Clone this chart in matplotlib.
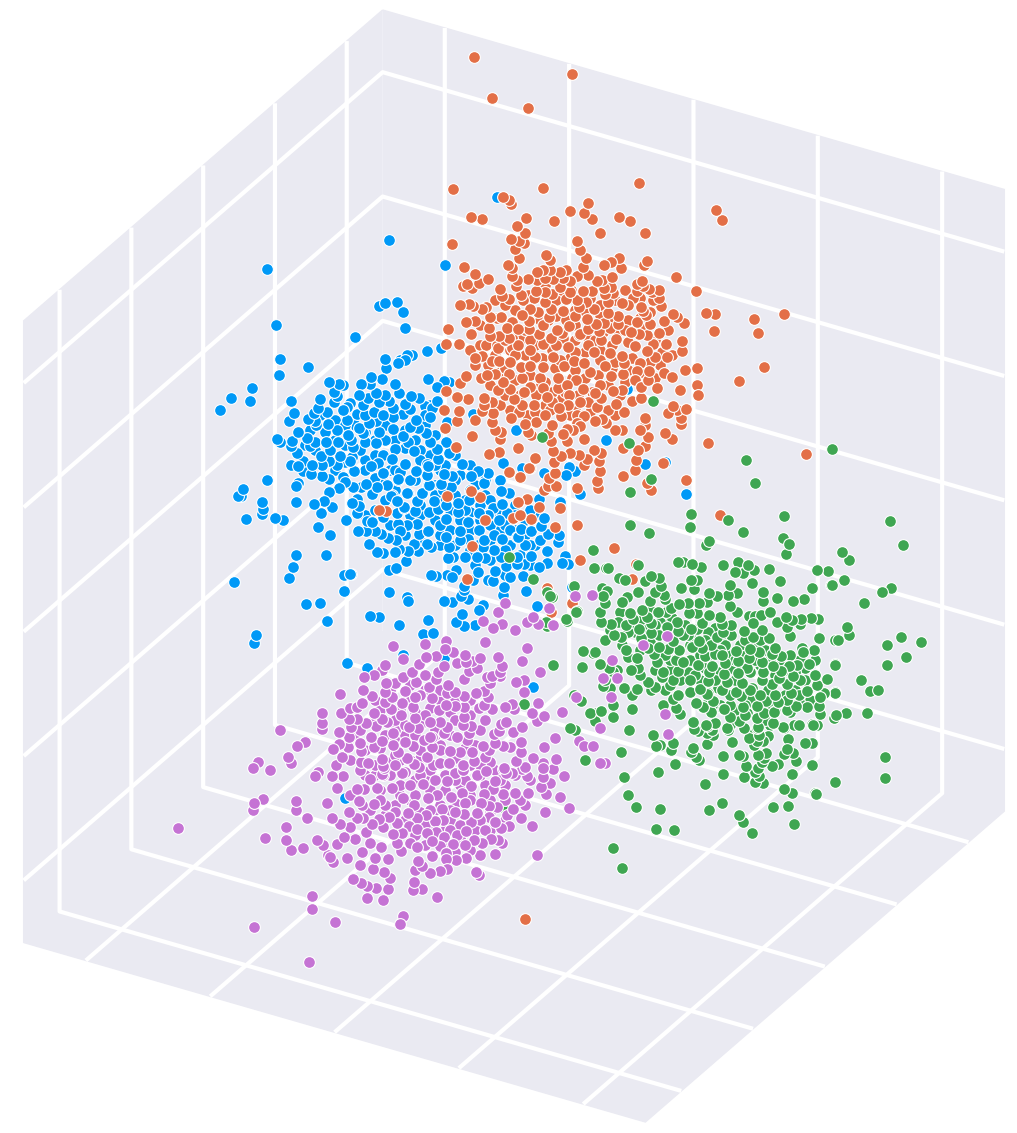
import numpy as np
import matplotlib
matplotlib.use("Agg")
import matplotlib.pyplot as plt
from mpl_toolkits.mplot3d import proj3d

# Readings of the four clouds as seen along the camera axis (picture x, picture y)
orange_view = [(474,57),(572,74),(492,98),(528,108),(716,210),(722,220),(706,313),(715,314),(754,319),(784,314),(758,333),(714,331),(764,367),(739,381),(698,395),(708,443),(806,454),(525,919),(720,515),(614,548),(636,564),(632,579),
(453,189),(543,188),(639,183),(503,197),(509,200),(511,204),(588,203),(570,211),(584,213),(592,219),(619,217),(630,221),(471,217),(482,219),(526,218),(554,221),(517,226),(525,233),(600,233),(645,233),(511,239),(519,241),(524,243),(452,244),(577,241),(515,249),(580,250),(519,258),(546,255),(550,260),(586,258),(604,265),(611,262),(619,258),(647,261),(644,265),(621,268),(464,267),(508,265),(512,268),(583,267),(696,291),(676,277),(475,274),(488,279),(479,283),(467,284),(463,286),(472,288),(512,276),(517,280),(516,286),(528,279),(537,272),(543,270),(550,270),(560,272),(566,270),(545,278),(553,279),(537,280),(563,278),(570,281),(577,276),(588,275),(612,277),(597,281),(602,280),(642,281),(637,284),(643,286),(637,291),(560,287),(536,291),(570,292),(583,291),(592,291),(604,288),(611,287),(500,289),(502,296),(521,295),(509,299),(545,292),(552,294),(605,294),(613,293),(649,289),(659,290),(652,292),(659,298),(653,300),(661,306),(673,314),(677,317),(684,323),(664,321),(641,307),(643,311),(646,315),(650,324),(637,322),(460,305),(469,304),(473,306),(482,309),(486,307),(505,305),(466,322),(475,321),(448,329),(471,334),(490,317),(501,317),(489,328),
(522,315),(530,309),(538,312),(545,302),(551,309),(563,311),(566,299),(577,300),(579,307),(575,316),(586,302),(594,309),(608,302),(608,313),(622,303),(628,305),(618,316),(549,317),(529,321),(543,325),(569,326),(587,319),(596,324),(604,323),(618,324),(518,329),(529,329),(507,328),(557,330),(588,329),(599,331),(631,332),(639,334),(659,333),(647,335),(562,333),(580,334),(490,336),(499,336),(539,334),(551,338),
(446,344),(459,344),(509,338),(543,344),(556,345),(568,347),(579,335),(594,352),(601,340),(610,353),(616,339),(622,356),(635,346),(647,351),(653,344),(666,344),(682,341),(682,351),(667,357),(655,357),(685,370),(697,368),(672,377),(664,373),(649,371),(697,385),(680,390),(657,388),(648,380),(641,387),(641,398),(632,401),(635,380),(637,371),(640,363),(624,363),(623,374),(611,376),(605,366),(584,363),(574,361),(564,366),(553,357),(543,367),(530,366),(521,367),(510,362),(499,361),(492,361),(475,358),(475,365),(482,356),(487,375),(495,374),(481,378),(466,376),(460,383),(446,391),(457,397),(468,399),(484,398),(484,405),(492,402),(444,410),(459,411),(482,411),(493,413),(475,420),(457,421),(492,422),(511,418),(445,428),(495,430),(501,432),(472,436),(500,439),(503,382),(509,374),(498,390),(510,389),(524,392),(514,399),(522,405),(519,412),(534,405),(547,397),(543,388),(530,387),(559,408),(568,405),(561,416),(545,415),(552,425),(525,424),(536,422),(548,433),(528,432),(531,435),(551,441),(563,434),(567,429),(573,430),(580,426),(577,423),(584,416),(577,415),(580,402),(569,395),(567,385),(583,389),(595,393),(601,398),(597,407),(616,404),(613,391),(624,412),(595,421),(602,419),(606,423),(615,430),(622,430),(567,441),(584,439),(645,418),(640,430),(645,425),(648,437),(623,448),(638,450),(645,446),(665,433),(672,439),(673,406),(668,413),(686,409),(677,410),(681,418),(681,424),(518,448),(553,451),(489,454),(499,452),(535,458),(561,456),(570,453),(579,455),(587,459),(594,450),(601,453),(599,461),(554,462),(584,465),(600,471),(636,460),(635,470),(663,463),(529,468),(509,472),(520,477),(555,473),(549,478),(556,486),(548,486),(544,490),(623,476),(597,481),(598,488),(577,488),(647,483),(651,490),(686,480),(456,447),(471,491),(480,497),(447,496),
(530,468),(518,502),(527,499),(539,507),(560,508),(379,510),(386,511),(520,515),(513,518),(485,520),(531,519),(555,527),(577,525),(472,546),(467,579),(547,588),(572,603),(551,612),(580,560),
(505,340),(518,345),(530,350),(498,348),(552,350),(575,352),(588,345),(600,360),(612,345),(628,342),(515,355),(535,357),(560,360),(590,372),(576,380),(558,378),(540,378),(522,378),(505,368),(600,385),(622,390),(588,402),(536,395),(552,402),(570,415),(512,348),(566,320),(530,340),(625,330),(610,328),(575,325),(595,340),(575,370),(548,320)]

orange_core = [(497,318),(512,322),(523,300),(534,298),(556,300),(571,290),(590,298),(600,305),(615,300),(633,298),(640,318),(628,320),(612,318),(600,315),(585,312),(570,318),(556,316),(540,320),(525,330),(512,338),(497,345),(486,345),(522,338),(535,345),(548,345),(563,338),(575,340),(588,338),(603,332),(618,332),(633,322),(645,328),(655,340),(662,352),(650,362),(632,358),(615,362),(600,350),(585,352),(570,358),(555,368),(542,358),(525,355),(510,350),(495,355),(488,365),(500,372),(515,380),(530,375),(545,382),(558,388),(572,378),(585,378),(598,375),(612,368),(628,370),(642,372),(655,378),(625,382),(608,385),(592,392),(578,395),(565,392),(552,392),(538,388),(520,395),(505,395),(490,385),(535,412),(550,410),(575,408),(590,412),(608,410),(620,395),(615,415),(500,405),(510,410),(527,415),(545,405),(562,398),(580,415),(480,345),(470,350),(480,325),(495,300),(515,310),(528,295),(545,285),(560,296),(575,310),(590,325),(605,312),(625,290),(640,298),(650,312),(668,330),(672,355),(660,365)]

blue_view = [(280,359),(279,375),(308,367),(252,388),(231,398),(250,401),(220,410),(291,401),(294,413),(289,421),(298,432),(277,439),(280,442),(292,441),(291,446),(307,438),(297,453),(267,480),(243,489),(238,496),(241,496),(262,502),(263,509),(296,502),(296,486),(298,483),(314,504),(324,501),(332,507),(329,492),(339,488),(329,382),(339,384),(343,385),(334,392),(337,396),(334,402),(320,399),(318,408),(314,413),(327,412),(308,419),(315,421),(343,410),(347,407),(350,403),(359,395),(361,384),(371,377),(370,384),(382,379),(395,384),(376,393),(368,398),(363,405),(385,395),(379,402),(389,401),(399,393),(411,396),(419,398),(428,379),(437,387),(444,381),(449,382),(385,359),(386,368),(398,363),(405,360),(407,355),(427,351),(441,348),(405,404),(410,409),(393,408),(383,415),(374,412),(365,415),(357,414),(347,420),(328,424),(337,430),(316,425),(369,423),(359,428),(376,421),(393,417),(403,414),(416,420),(430,417),(437,401),(432,408),(425,415),(447,422),(410,427),(418,428),(393,429),(379,432),(363,433),(348,435),(326,442),(315,442),(338,442),(351,440),(353,447),(330,450),(310,446),(340,456),(321,456),(312,465),(298,466),(291,465),(303,461),(322,465),(329,461),(337,465),(350,461),(354,471),(311,474),(303,471),(322,476),(329,479),(345,482),(343,477),(353,487),(366,484),(361,487),(377,487),(372,494),(352,503),(359,506),(357,499),(387,485),(398,479),(383,473),(371,466),(378,463),(392,459),(383,455),(376,443),(365,442),(352,457),(395,449),(403,436),(414,451),(408,442),(426,433),(430,442),(437,449),(446,442),(449,453),(405,464),(416,471),(428,466),(438,459),(427,475),(444,474),(452,476),(429,485),(422,493),(441,484),(451,487),(443,490),(407,493),(397,501),(391,496),(404,507),(417,501),(434,501),(446,505),(400,472),(385,483),
(353,471),(383,473),(392,495),(398,480),(408,493),(416,471),(405,465),(427,464),(427,474),(428,485),(422,494),(440,485),(462,464),(471,476),(478,471),(488,473),(484,483),(501,491),(509,493),(503,463),(522,468),(544,473),(566,475),(569,467),(539,499),(560,502),(530,510),(544,518),(541,526),(531,531),(548,534),(559,535),(558,542),(547,551),(521,529),(518,537),(502,539),(494,535),(484,540),(479,530),(468,522),(499,520),(458,503),(458,512),(469,500),(479,513),(488,515),(502,504),(493,508),(507,513),(438,509),(446,519),(429,512),(415,511),(404,508),(397,513),(383,517),(372,522),(367,521),(357,513),(359,506),(355,502),(346,520),(358,531),(366,531),(375,531),(381,534),(388,538),(396,540),(400,531),(398,524),(407,525),(417,524),(428,531),(440,525),(419,534),(446,537),(460,531),(460,540),(468,539),(369,544),(377,552),(383,553),(395,552),(399,549),(408,551),(414,544),(418,551),(427,544),(431,547),(449,547),(406,561),(396,568),(389,570),(350,574),(344,591),(431,575),(436,576),(452,577),(447,575),(456,570),(448,558),(453,557),(465,557),(477,557),(485,558),(483,547),(494,550),(501,557),(517,557),(517,537),(531,556),(517,564),(524,564),(506,566),(495,571),(478,572),(539,567),(547,563),(562,563),(568,564),(565,556),(510,577),(523,576),(473,580),(464,586),(493,581),(488,580),(504,587),(464,590),(503,595),(526,591),(572,587),(461,596),(468,599),(389,592),(408,601),(444,601),(452,602),(479,610),(483,605),(462,614),(537,606),(370,616),(379,617),(428,620),(399,625),(456,622),(464,626),(475,625),
(389,240),(445,265),(267,269),(276,325),(355,337),(403,312),(397,302),(385,303),(379,306),(405,328),(240,495),(246,519),(262,514),(275,518),(283,520),(296,555),(293,567),(289,578),(234,582),(326,555),(344,575),(351,574),(306,604),(320,603),(327,621),(256,635),(254,643),(347,663),(367,668),(403,655),(433,633),(423,634),(497,197),(407,597),(345,798),(533,687),(444,658),(686,494),(645,464),(665,462),(580,494),(606,440),(575,471),(541,415),(627,389),(473,414),(495,408),(516,430),(412,355),(400,360),(425,406),(430,405),(330,535),(318,527),(321,513),
(472,497),(480,520),(455,495),(465,510),(435,495),(420,505),(410,480),(395,470),(435,465),(455,480),(470,490),(490,500),(510,530),(525,545),(540,540),(505,550),(490,525),(470,530),(450,510),(440,535),(505,525),(530,545),(515,515),(335,440),(345,425),(360,450),(375,455),(365,470),(385,440),(345,445),(420,460),(440,500)]

blue_core = [(325,432),(335,420),(345,430),(355,425),(365,432),(375,440),(385,425),(395,440),(405,430),(415,440),(425,425),(435,435),(420,450),(405,448),(390,470),(375,478),(365,460),(355,452),(345,462),(335,470),(325,455),(315,450),(305,445),(310,430),(320,415),(415,480),(430,455),(445,465),(460,475),(475,485),(485,495),(500,510),(515,505),(525,520),(535,515),(510,520),(495,515),(480,505),(465,500),(450,495),(435,485),(420,515),(410,515),(395,490),(385,500),(375,510),(365,515),(390,525),(405,535),(420,540),(435,520),(450,530),(470,512),(478,545),(490,540),(510,545),(525,535),(535,545),(500,530),(515,530),(460,520),(470,550),(455,545),(440,545),(505,575),(520,555),(530,565),(490,560),(475,565),(440,470),(455,455),(470,465),(485,480),(500,480)]

green_view = [(638,565),(608,568),(594,568),(678,562),(692,564),(723,565),(748,565),(735,572),(743,573),(754,570),(769,569),(817,570),(828,571),(780,581),(832,585),(812,588),(625,580),(638,592),(651,576),(645,581),(659,578),(661,586),(655,592),(664,595),(681,588),(691,580),(697,580),(694,589),(709,593),(717,596),(730,585),(728,595),(737,593),(752,583),(763,592),(777,598),(763,601),(793,601),(804,599),(603,596),(607,591),(605,603),(622,602),(627,597),(650,601),(665,599),(679,604),(688,603),(699,603),(707,602),(730,606),(737,612),(770,612),(600,612),(601,622),(642,610),(630,613),(633,619),(647,617),(658,612),(671,608),(666,612),(689,613),(697,613),(709,615),(720,617),(626,625),(611,624),(618,622),(639,629),(651,623),(667,627),(677,622),(702,623),(722,624),(731,625),(753,623),(761,615),(755,616),(749,616),(786,617),(792,620),(777,622),(787,627),(801,619),(800,624),(811,618),(818,619),(762,630),(769,638),(790,636),(819,638),(838,640),(614,635),(621,637),(605,640),(628,632),(641,638),(651,633),(659,635),(678,631),(691,629),(697,629),(723,632),(731,635),(744,631),(753,637),(717,637),(699,641),(683,635),(673,641),(659,647),(648,648),(626,650),(595,652),(637,658),(628,657),(654,654),(668,649),(679,650),(692,647),(702,648),(711,645),(722,655),(736,651),(750,649),(759,652),(775,648),(803,652),(814,650),(802,648),(715,654),(705,656),(683,662),(676,660),(657,662),(698,665),(712,666),(725,663),(738,661),(749,658),(762,662),(772,654),(781,656),(773,666),(781,671),(789,666),(797,665),(809,664),(835,665),(815,675),(600,664),(609,668),(631,670),(638,668),(663,672),(678,671),(640,675),(662,677),(709,672),(724,674),(738,673),(747,668),(763,672),(793,676),(827,679),(817,685),(673,680),(690,680),(708,681),(727,682),(742,683),(762,680),(779,678),(772,684),(787,684),(605,680),(603,686),(624,688),(637,689),(648,682),(655,687),(651,690),(670,685),(700,689),(722,690),(736,692),(750,690),(807,691),(791,693),(799,695),(820,697),(824,693),(835,693),(632,695),(678,695),(673,699),(707,694),(741,696),(760,695),(775,695),(713,701),(696,703),(778,702),(787,700),(757,706),(743,707),(796,706),(807,707),(819,706),(663,705),(703,707),(724,709),(632,709),(601,711),(676,708),(711,712),(774,712),(764,713),(680,714),(613,717),(820,714),(836,715),(730,717),(745,715),(590,713),(595,721),(739,721),(693,722),(757,718),(773,723),(799,725),(813,725),(706,725),(715,723),(727,728),(758,727),(783,727),(629,730),
(694,729),(698,731),(707,726),(714,723),(712,730),(707,733),(713,735),(728,730),(744,728),(757,728),(759,735),(749,738),(757,741),(754,745),(763,741),(768,736),(732,742),(707,744),(653,735),(673,743),(656,746),(660,745),(671,750),(693,748),(691,752),(696,757),(699,760),(675,764),(658,772),(723,756),(739,755),(743,756),(758,755),(766,753),(764,758),(762,762),(746,766),(758,768),(772,766),(778,764),(755,772),(759,776),(723,774),(744,777),(705,784),(755,782),(763,783),(792,774),(812,765),(784,789),(792,793),(816,794),(835,782),(787,749),(784,754),(793,753),(796,761),(788,739),(805,743),(812,743),(812,724),(817,725),(794,725),(784,728),(774,723),(835,692),(835,664),(799,702),(787,710),(775,711),(766,701),(747,713),(723,709),(702,707),(708,693),
(691,514),(746,460),(832,449),(755,483),(784,516),(728,520),(890,521),(903,545),(743,532),(709,541),(690,527),(649,533),(630,525),(706,545),(789,544),(786,554),(783,538),(842,552),(849,560),(844,580),(831,585),(864,603),(882,592),(891,588),(738,562),(701,567),(683,562),(606,568),(593,550),(619,578),(574,586),(550,596),(566,619),(546,622),(602,588),(576,612),(553,665),(583,651),(593,653),(582,667),(613,672),(574,695),(581,701),(524,704),(570,728),(596,713),(610,688),(617,670),(613,705),(575,730),(585,760),(621,752),(624,777),(628,795),(636,807),(660,809),(613,848),(622,868),(656,829),(674,830),(709,810),(722,803),(739,815),(743,822),(752,833),(773,807),(788,806),(794,824),(815,793),(885,757),(885,778),(887,665),(901,637),(921,642),(906,657),(887,645),(861,680),(878,690),(870,691),(867,713),(846,713),(834,718),(847,627),(849,635),(835,640),(504,808),(653,401),(542,437),(629,443),(651,479),(630,492),(509,557),(533,579),(547,592),(552,597),(577,611),(567,621),(547,626),
(655,625),(672,618),(688,635),(705,640),(720,650),(735,660),(750,672),(768,690),(785,695),(715,680),(730,695),(695,675),(680,665),(665,655),(745,640),(760,640),(755,660),(770,660),(785,670),(800,680),(745,705),(730,705),(765,720),(790,712),(640,620),(700,655),(725,645),(750,700),(770,705)]

green_core = [(620,612),(630,625),(645,628),(660,622),(670,635),(685,625),(695,640),(708,632),(715,628),(725,640),(740,645),(755,645),(765,650),(780,665),(795,672),(805,680),(815,660),(790,655),(745,655),(730,668),(718,672),(705,668),(690,660),(670,660),(650,642),(635,632),(622,645),(610,630),(640,650),(655,670),(670,670),(688,672),(700,680),(718,688),(735,680),(752,688),(768,700),(782,702),(795,690),(810,700),(760,710),(745,715),(730,725),(720,705),(705,705),(690,692),(680,680),(665,690),(650,610),(670,620),(690,645),(710,655),(728,655),(742,665),(760,665),(775,675),(755,700),(735,710),(800,660),(805,668),(770,725),(750,735)]

purple_view = [(393,646),(425,644),(445,649),(446,641),(485,642),(453,652),(465,655),(480,658),(498,657),(527,648),(522,661),(540,672),(403,659),(426,657),(436,656),(466,662),(457,663),(472,661),(502,666),(500,672),(385,665),(419,664),(444,666),(477,668),(469,671),(412,672),(425,675),(438,672),(364,677),(374,675),(382,670),(403,677),(464,679),(492,676),(487,677),(500,676),(516,682),(524,680),(524,692),(490,683),(386,683),(395,683),(416,682),(436,679),(448,685),(429,687),(363,690),(340,694),(455,692),(476,693),(484,691),(464,696),(372,696),(385,692),(405,691),(415,697),(432,698),(447,693),(392,697),(488,697),(538,703),(362,703),(385,702),(402,703),(413,707),(446,705),(455,706),(464,707),(484,705),(357,707),(350,708),(341,713),(374,713),(391,709),(439,710),(479,708),(492,709),(505,707),(512,704),(514,709),(532,713),(562,712),(544,716),(349,719),(357,719),(382,719),(401,715),(415,718),(430,722),(464,717),(537,721),(366,723),(376,726),(387,722),(409,727),(418,728),(440,722),(447,727),(463,725),(471,726),(506,722),(501,724),(522,727),(351,727),(339,732),(499,731),(513,732),(393,733),(430,737),(444,733),(469,733),(457,737),(467,740),(349,737),(371,737),(382,741),(405,742),(424,740),(432,737),(494,734),(555,738),(495,743),(521,742),(360,743),(333,749),(339,744),(348,747),(374,747),(393,745),(413,746),(450,751),(432,747),(483,746),(489,750),(503,746),(510,747),(544,747),(342,757),(361,751),(382,759),(398,752),(407,758),(427,757),(460,752),(472,752),(521,752),(533,758),(516,761),(556,759),(474,761),(485,757),(368,763),(414,764),(449,763),(440,763),(336,765),(395,765),(383,766),(463,765),(525,767),(504,768),(543,768),(553,769),
(332,776),(343,776),(337,788),(361,762),(384,768),(370,779),(360,770),(357,789),(364,789),(359,801),(362,805),(377,788),(382,774),(392,788),(374,804),(380,800),(349,812),(332,818),(340,824),(350,827),(357,818),(363,818),(372,824),(379,819),(389,817),(397,823),(383,827),(344,837),(355,839),(366,832),(337,844),(370,843),(381,847),(393,834),(402,833),(397,843),(362,852),(401,851),(417,847),(410,843),(347,858),(375,858),(388,859),(432,856),(360,865),(373,869),(384,872),(390,878),(418,861),(422,866),(430,873),(440,871),(447,869),(415,870),(414,882),(353,879),(361,883),(367,886),(376,888),(388,889),(413,890),(422,889),(330,857),(333,862),(476,872),(479,875),(446,859),(456,860),(466,858),(495,854),(537,855),(446,853),(432,841),(440,846),(453,844),(465,845),(474,840),(482,843),(491,839),(498,840),(502,843),(444,837),(466,831),(485,830),(457,835),(427,833),(417,829),(436,832),(409,826),(408,813),(417,818),(426,815),(435,821),(443,820),(455,812),(464,814),(477,813),(471,822),(480,820),(495,822),(489,817),(501,828),(509,826),(521,818),(532,826),(513,809),(507,815),(545,812),(414,805),(428,798),(437,795),(442,809),(451,797),(465,803),(481,803),(489,806),(497,807),(403,798),(462,793),(484,794),(410,785),(423,784),(435,780),(447,781),(471,786),(495,781),(493,789),(503,794),(515,793),(528,793),(506,773),(512,773),(522,769),(527,776),(503,769),(486,771),(477,775),(463,770),(455,773),(433,765),(419,767),(402,773),(383,775),(543,777),(564,776),(541,787),(550,783),(546,794),(560,797),(543,763),(516,762),(569,808),
(178,828),(254,927),(309,962),(335,922),(312,909),(312,896),(280,730),(253,768),(270,770),(258,762),(288,757),(291,763),(297,746),(305,742),(322,713),(322,723),(322,729),(254,803),(253,810),(263,799),(296,801),(296,810),(307,818),(286,827),(286,840),(265,838),(291,850),(303,848),(317,840),(323,845),(328,855),(327,803),(315,776),(318,772),(400,924),(403,916),(437,897),(383,900),(367,898),(600,763),(605,763),(593,746),(584,746),(579,741),(576,697),(592,595),(667,636),(643,645),(612,660),(603,678),(617,678),(611,697),(665,714),(600,728),(668,734),(505,603),(498,612),(483,621),(493,628),(502,624),(515,630),(533,617),(527,622),(538,624),(553,625),(549,608),(575,596),
(405,725),(425,715),(395,755),(420,775),(440,750),(455,780),(475,745),(430,790),(445,775),(415,795),(400,785),(470,800),(450,830),(425,825),(395,720),(410,760),(435,730),(465,780),(480,765),(490,800),(500,780),(375,765),(405,700),(420,695),(440,690),(455,720),(415,735),(390,775),(430,810),(450,810),(475,830),(460,825)]

purple_core = [(375,700),(390,690),(410,685),(425,690),(440,700),(455,698),(470,700),(380,710),(400,710),(415,712),(430,708),(450,712),(470,715),(485,720),(360,730),(375,720),(395,730),(405,735),(420,725),(435,735),(450,735),(465,748),(480,730),(365,750),(380,748),(395,740),(420,750),(440,745),(455,758),(470,765),(490,762),(375,775),(390,762),(405,772),(420,758),(430,770),(445,790),(460,785),(480,775),(495,770),(380,790),(400,795),(415,780),(430,780),(440,805),(455,803),(470,795),(485,785),(505,785),(385,805),(395,812),(410,800),(420,812),(435,810),(450,820),(465,822),(490,812),(505,800),(395,805),(405,820),(415,835),(430,830),(445,830),(460,838),(475,825),(490,830),(425,845),(445,848),(455,852),(400,760),(385,735),(355,735),(350,760),(365,775),(350,795),(370,810),(385,815),(520,800),(515,775),(530,780),(505,820),(525,805),(470,850),(480,855)]

CENTER_X, CENTER_Y = 514.0, 566.0   # middle of the cube in the picture
HALF_SIDE_PX = 359.0                # half a cube edge in picture pixels
ELEV, AZIM = 30.0, 30.0
LIMIT = 10.0


def to_data(view, depth):
    """Place picture readings on a plane of given depth facing the camera."""
    arr = np.asarray(view, dtype=float)
    u = arr[:, 0] - CENTER_X
    v = CENTER_Y - arr[:, 1]
    e, a = np.radians(ELEV), np.radians(AZIM)
    x = -u * np.sin(a) - v * np.sin(e) * np.cos(a) + depth * np.cos(e) * np.cos(a)
    y = u * np.cos(a) - v * np.sin(e) * np.sin(a) + depth * np.cos(e) * np.sin(a)
    z = v * np.cos(e) + depth * np.sin(e)
    k = LIMIT / HALF_SIDE_PX
    return x * k, y * k, z * k


W, H = 1017, 1133
fig = plt.figure(figsize=(W / 100, H / 100), dpi=100, facecolor="white")
ax = fig.add_axes([0, 0, 1, 1], projection="3d", proj_type="ortho", computed_zorder=False)
ax.view_init(elev=ELEV, azim=AZIM)
ax.set_xlim(-LIMIT, LIMIT)
ax.set_ylim(-LIMIT, LIMIT)
ax.set_zlim(-LIMIT, LIMIT)
ax.set_box_aspect((1, 1, 1))
ticks = [-8, -4, 0, 4, 8]
ax.set_xticks(ticks)
ax.set_yticks(ticks)
ax.set_zticks(ticks)
ax.set_xticklabels([])
ax.set_yticklabels([])
ax.set_zticklabels([])
ax.patch.set_alpha(0)
for axis in (ax.xaxis, ax.yaxis, ax.zaxis):
    axis.set_pane_color("#EAEAF2")
    axis.pane.set_edgecolor("#EAEAF2")
    axis.line.set_color((1, 1, 1, 0))
    axis._axinfo["grid"].update(color="white", linewidth=3.0, linestyle="-")
    axis._axinfo["tick"]["inward_factor"] = 0
    axis._axinfo["tick"]["outward_factor"] = 0
ax.tick_params(length=0, colors=(1, 1, 1, 0))

series = [
    (blue_view + blue_core, -100, "#0099F7", 2),
    (orange_view + orange_core, -150, "#E36F47", 3),
    (green_view + green_core, -60, "#3FA652", 4),
    (purple_view + purple_core, 20, "#C573D4", 5),
]
for view, depth, color, order in series:
    x, y, z = to_data(view, depth)
    sc = ax.scatter(x, y, z, s=72, c=color, edgecolors="white", linewidths=0.8,
                    depthshade=False, alpha=1, zorder=order)
    sc.set_clip_on(False)


def pixel(px, py, pz):
    X, Y, _ = proj3d.proj_transform(px, py, pz, ax.get_proj())
    return ax.transData.transform((X, Y))


# Fit the cube to the frame: scale, then move
fig.canvas.draw()
a0 = pixel(-LIMIT, -LIMIT, LIMIT)
b0 = pixel(LIMIT, LIMIT, -LIMIT)
measured = b0[1] - a0[1]
target = -(1122 - 10)
zoom = target / measured
ax.set_box_aspect((1, 1, 1), zoom=zoom)
fig.canvas.draw()
c0 = pixel(0, 0, 0)
dx = (CENTER_X - c0[0]) / W
dy = ((H - CENTER_Y) - c0[1]) / H
pos = ax.get_position()
ax.set_position([pos.x0 + dx, pos.y0 + dy, pos.width, pos.height])

fig.savefig("out.png", dpi=100, facecolor="white")
